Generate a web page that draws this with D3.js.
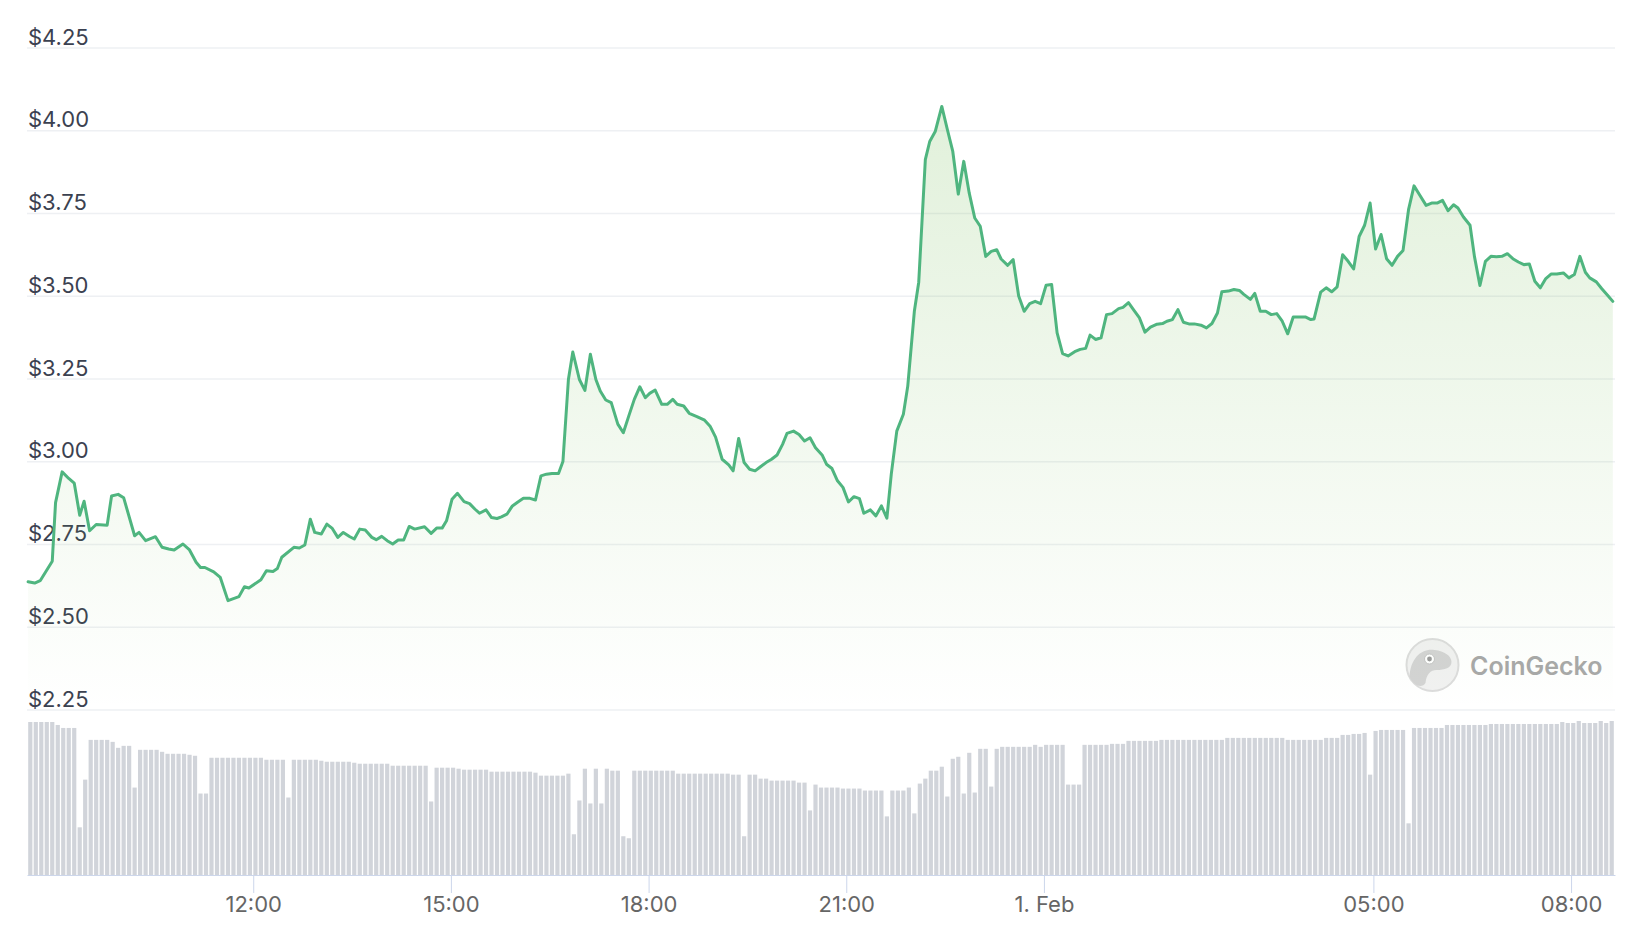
<!DOCTYPE html>
<html><head>
<meta charset="utf-8">
<title>Price chart - 24h</title>
<script src="https://d3js.org/d3.v7.min.js"></script>
<style>
  body { margin: 0; background: #fff; }
  svg { display: block; font-family: Inter, "Noto Sans", sans-serif; }

  .gridlines line { stroke: #eef0f3; stroke-width: 1.5px; }
  .gridlines .domain { stroke: none; }

  .ylabels text { fill: #3b4150; font-size: 22px; }

  .xaxis text { fill: #666; font-size: 22px; font-family: Inter, "Noto Sans", sans-serif; }
  .xaxis line, .xaxis path { stroke: #ccd6eb; }
</style>
</head>
<body>

<svg id="chart" width="1640" height="934"></svg>

<script>

// Price readings: minutes after 31 Jan 08:34, and price in USD
const priceMinutes = [
  1, 7, 12, 23, 26, 32, 38, 43, 48, 52, 57, 63, 73, 77, 83, 88, 98, 102, 108, 117,
  123, 129, 134, 142, 148, 154, 158, 162, 170, 176, 183, 193, 198, 202, 213, 218, 224, 228, 232, 243,
  248, 253, 258, 262, 268, 273, 278, 283, 288, 294,
  298, 303, 308, 314, 318, 323, 328, 333, 338, 343, 348, 353, 362, 368, 373, 378, 382, 387, 392, 398,
  403, 408, 412, 418, 423, 428, 432, 437, 442, 447, 452, 458, 463, 468, 473, 478, 484, 488, 493, 497,
  503, 508, 513, 518, 522, 527, 532, 538, 543, 548, 553, 558, 563, 567, 572, 578, 583,
  588, 592, 598, 603, 610, 617, 622, 627, 633, 639, 643, 648, 653, 658, 663, 667, 673, 678, 683, 688,
  692, 698, 703, 708, 713, 718, 724, 728, 733, 738, 743, 748, 753, 758, 762, 768, 773, 778, 783, 787,
  792, 798, 802, 808, 812, 818, 822, 827, 833, 838, 843, 848, 853, 858, 863, 868, 873,
  878, 883, 887, 893, 898, 903, 908, 913, 918, 923, 928, 933, 938, 943, 948, 954, 959, 964, 968, 973,
  978, 983, 988, 994, 998, 1003, 1008, 1013, 1018, 1023, 1029, 1034, 1038, 1043, 1048, 1053, 1058, 1063, 1069, 1074,
  1079, 1084, 1088, 1094, 1099, 1104, 1108, 1114, 1118, 1123, 1128, 1133, 1138, 1143, 1148, 1153, 1159, 1164,
  1169, 1172, 1178, 1183, 1188, 1193, 1198, 1203, 1208, 1213, 1218, 1223, 1228, 1233, 1238, 1243, 1248, 1253, 1258, 1263,
  1268, 1274, 1279, 1284, 1289, 1294, 1299, 1303, 1308, 1314, 1318, 1323, 1328, 1333, 1338, 1343, 1348, 1353, 1358, 1363,
  1368, 1373, 1378, 1383, 1388, 1393, 1399, 1404, 1409, 1414, 1419, 1423, 1429, 1434, 1439, 1444
];
const prices = [
  2.636, 2.632, 2.639, 2.698, 2.875, 2.968, 2.948, 2.934, 2.837, 2.879, 2.790, 2.809, 2.807, 2.895, 2.900, 2.890, 2.775, 2.785, 2.760, 2.772,
  2.740, 2.735, 2.732, 2.750, 2.732, 2.695, 2.679, 2.679, 2.666, 2.649, 2.579, 2.591, 2.621, 2.617, 2.642, 2.669, 2.667, 2.676, 2.710, 2.740,
  2.738, 2.747, 2.825, 2.785, 2.780, 2.810, 2.797, 2.770, 2.785, 2.772,
  2.765, 2.795, 2.792, 2.770, 2.763, 2.773, 2.760, 2.750, 2.762, 2.762, 2.803, 2.795, 2.802, 2.782, 2.798, 2.798, 2.820, 2.885, 2.903, 2.878,
  2.872, 2.855, 2.843, 2.853, 2.830, 2.827, 2.832, 2.840, 2.865, 2.877, 2.888, 2.888, 2.883, 2.956, 2.961, 2.963, 2.963, 2.999, 3.247, 3.330,
  3.247, 3.214, 3.323, 3.247, 3.212, 3.185, 3.177, 3.112, 3.086, 3.137, 3.187, 3.225, 3.192, 3.205, 3.215, 3.172, 3.172,
  3.187, 3.172, 3.167, 3.145, 3.135, 3.124, 3.106, 3.073, 3.006, 2.989, 2.971, 3.069, 2.996, 2.976, 2.971, 2.981, 2.996, 3.006, 3.019, 3.051,
  3.084, 3.091, 3.081, 3.061, 3.071, 3.041, 3.019, 2.991, 2.978, 2.941, 2.921, 2.877, 2.893, 2.887, 2.843, 2.853, 2.835, 2.865, 2.828, 2.961,
  3.091, 3.142, 3.227, 3.453, 3.541, 3.911, 3.966, 3.996, 4.072, 4.003, 3.936, 3.807, 3.906, 3.810, 3.735, 3.710, 3.619,
  3.634, 3.639, 3.611, 3.592, 3.609, 3.499, 3.453, 3.476, 3.483, 3.476, 3.532, 3.534, 3.388, 3.325, 3.318, 3.331, 3.338, 3.341, 3.381, 3.368,
  3.373, 3.443, 3.446, 3.461, 3.465, 3.479, 3.456, 3.433, 3.390, 3.405, 3.414, 3.416, 3.423, 3.428, 3.458, 3.420, 3.415, 3.415, 3.411, 3.403,
  3.416, 3.448, 3.512, 3.514, 3.519, 3.516, 3.504, 3.489, 3.507, 3.453, 3.453, 3.443, 3.446, 3.423, 3.385, 3.436, 3.436, 3.436,
  3.428, 3.430, 3.511, 3.524, 3.512, 3.527, 3.624, 3.604, 3.581, 3.679, 3.713, 3.780, 3.641, 3.685, 3.612, 3.592, 3.619, 3.637, 3.760, 3.832,
  3.805, 3.773, 3.780, 3.780, 3.788, 3.757, 3.775, 3.765, 3.738, 3.713, 3.619, 3.531, 3.604, 3.619, 3.618, 3.619, 3.627, 3.612, 3.602, 3.594,
  3.596, 3.544, 3.524, 3.552, 3.566, 3.566, 3.569, 3.554, 3.564, 3.619, 3.571, 3.554, 3.542, 3.521, 3.502, 3.483
];

// Volume bars, one every 5 minutes starting 31 Jan 08:37 (relative units)
const volumes = [
  15.4, 15.4, 15.4, 15.4, 15.4, 15.1, 14.8, 14.8, 14.8, 4.8, 9.6, 13.6, 13.6, 13.6, 13.6, 13.4, 12.8, 13.0, 13.0, 8.8,
  12.6, 12.6, 12.6, 12.6, 12.4, 12.2, 12.2, 12.2, 12.2, 12.1, 12.0, 8.2, 8.2, 11.8, 11.8, 11.8, 11.8, 11.8, 11.8, 11.8,
  11.8, 11.8, 11.8, 11.6, 11.6, 11.6, 11.6, 7.8, 11.6, 11.6, 11.6, 11.6, 11.6, 11.5, 11.4, 11.4, 11.4, 11.4, 11.4, 11.3,
  11.2, 11.2, 11.2, 11.2, 11.2, 11.2, 11.0, 11.0, 11.0, 11.0, 11.0, 11.0, 11.0, 7.4, 10.8, 10.8, 10.8, 10.8, 10.7, 10.6,
  10.6, 10.6, 10.6, 10.6, 10.4, 10.4, 10.4, 10.4, 10.4, 10.4, 10.4, 10.4, 10.3, 10.0, 10.0, 10.0, 10.0, 10.0, 10.2, 4.1,
  7.5, 10.7, 7.2, 10.7, 7.2, 10.7, 10.5, 10.5, 3.9, 3.7, 10.5, 10.5, 10.5, 10.5, 10.5, 10.5, 10.5, 10.5, 10.2, 10.2,
  10.2, 10.2, 10.2, 10.2, 10.2, 10.2, 10.2, 10.2, 10.1, 10.1, 3.9, 10.1, 10.1, 9.7, 9.7, 9.5, 9.5, 9.5, 9.5, 9.5,
  9.3, 9.3, 6.5, 9.1, 8.8, 8.8, 8.8, 8.8, 8.7, 8.7, 8.7, 8.7, 8.5, 8.5, 8.5, 8.5, 5.9, 8.5, 8.5, 8.5,
  8.8, 6.2, 9.2, 9.7, 10.5, 10.5, 10.9, 7.9, 11.7, 11.9, 8.2, 12.3, 8.3, 12.7, 12.7, 8.9, 12.7, 12.9, 12.9, 12.9,
  12.9, 12.9, 12.9, 13.1, 12.9, 13.1, 13.1, 13.1, 13.1, 9.1, 9.1, 9.1, 13.1, 13.1, 13.1, 13.1, 13.1, 13.2, 13.2, 13.2,
  13.5, 13.5, 13.5, 13.5, 13.5, 13.5, 13.6, 13.6, 13.6, 13.6, 13.6, 13.6, 13.6, 13.6, 13.6, 13.6, 13.6, 13.6, 13.8, 13.8,
  13.8, 13.8, 13.8, 13.8, 13.8, 13.8, 13.8, 13.8, 13.8, 13.6, 13.6, 13.6, 13.6, 13.6, 13.6, 13.6, 13.8, 13.8, 13.8, 14.1,
  14.1, 14.2, 14.2, 14.3, 10.1, 14.5, 14.6, 14.6, 14.6, 14.6, 14.6, 5.2, 14.8, 14.8, 14.8, 14.8, 14.8, 14.8, 15.1, 15.1,
  15.1, 15.1, 15.1, 15.1, 15.1, 15.1, 15.2, 15.2, 15.2, 15.2, 15.2, 15.2, 15.2, 15.2, 15.2, 15.2, 15.2, 15.2, 15.2, 15.4,
  15.3, 15.3, 15.5, 15.3, 15.3, 15.3, 15.5, 15.3, 15.5
];

const priceTicks = [2.25, 2.50, 2.75, 3.00, 3.25, 3.50, 3.75, 4.00, 4.25];
const timeTicks = ["2023-01-31T12:00", "2023-01-31T15:00", "2023-01-31T18:00", "2023-01-31T21:00",
                   "2023-02-01T00:00", "2023-02-01T05:00", "2023-02-01T08:00"];
const timeTickLabels = ["12:00", "15:00", "18:00", "21:00", "1. Feb", "05:00", "08:00"];


// SVG and layout
const svg = d3.select("svg#chart");
const plotLeft = 27, plotRight = 1615;
const priceTop = 47.5, priceBottom = 709.5;
const volTop = 721, volBottom = 875;

const start = new Date("2023-01-31T08:34");
const minutesToDate = (m) => new Date(start.getTime() + m * 60000);

// Scales
const xScale = d3.scaleTime()
  .domain([start, new Date("2023-02-01T08:40")])
  .range([plotLeft, plotRight]);

const yScale = d3.scaleLinear()
  .domain([2.25, 4.25])
  .range([priceBottom, priceTop]);

const volScale = d3.scaleLinear()
  .domain([0, d3.max(volumes)])
  .range([volBottom, volTop]);

const priceData = priceMinutes.map((m, i) => ({date: minutesToDate(m), price: prices[i]}));
const volData = volumes.map((v, i) => ({date: minutesToDate(3 + i * 5), vol: v}));


// Gridlines from an axis with no labels
const gridAxis = d3.axisLeft(yScale)
  .tickValues(priceTicks)
  .tickSize(-(plotRight - plotLeft))
  .tickFormat("");
svg.append("g").attr("class", "gridlines")
  .attr("transform", "translate(" + plotLeft + ",0)")
  .call(gridAxis);

// Price labels sit above their gridline, left aligned
const fmt = d3.format("$.2f");
svg.append("g").attr("class", "ylabels")
  .selectAll("text")
  .data(priceTicks)
  .join("text")
  .attr("x", plotLeft + 1)
  .attr("y", d => yScale(d) - 3)
  .text(d => fmt(d));


// Watermark
const logo = svg.append("g").attr("transform", "translate(1432.5,665)");
logo.append("circle").attr("r", 26).attr("fill", "#f1f1f1").attr("stroke", "#dcdcdc").attr("stroke-width", 2);
logo.append("path")
  .attr("d", "M -23 12 C -22 -8, -10 -17, 2 -15 C 12 -14, 19 -9, 19 -3 C 19 3, 12 5, 4 5 C -2 5, -6 9, -7 18 C -10 23, -18 22, -23 12 Z")
  .attr("fill", "#d3d3d3");
logo.append("circle").attr("cx", -3).attr("cy", -6).attr("r", 5).attr("fill", "#fff").attr("stroke", "#c4c4c4");
logo.append("circle").attr("cx", -3).attr("cy", -6).attr("r", 2.4).attr("fill", "#9a9a9a");
svg.append("text")
  .attr("x", 1470).attr("y", 675)
  .attr("fill", "#a8a8a8")
  .attr("font-size", 25)
  .attr("font-weight", 600)
  .text("CoinGecko");


// Area fill with a fading green gradient
const grad = svg.append("defs").append("linearGradient")
  .attr("id", "areaFill")
  .attr("gradientUnits", "userSpaceOnUse")
  .attr("x1", 0).attr("x2", 0)
  .attr("y1", priceTop).attr("y2", priceBottom);
grad.append("stop").attr("offset", "0%").attr("stop-color", "rgb(120,190,90)").attr("stop-opacity", 0.24);
grad.append("stop").attr("offset", "100%").attr("stop-color", "rgb(120,190,90)").attr("stop-opacity", 0.0);

const area = d3.area()
  .x(d => xScale(d.date))
  .y0(priceBottom)
  .y1(d => yScale(d.price));
svg.append("path")
  .datum(priceData)
  .attr("d", area)
  .attr("fill", "url(#areaFill)");

const line = d3.line()
  .x(d => xScale(d.date))
  .y(d => yScale(d.price));
svg.append("path")
  .datum(priceData)
  .attr("d", line)
  .attr("fill", "none")
  .attr("stroke", "#4fb57f")
  .attr("stroke-width", 3)
  .attr("stroke-linejoin", "round")
  .attr("stroke-linecap", "round");


// Volume bars
const barWidth = 4.2;
svg.append("g")
  .selectAll("rect")
  .data(volData)
  .join("rect")
  .attr("x", d => xScale(d.date) - barWidth / 2)
  .attr("y", d => volScale(d.vol))
  .attr("width", barWidth)
  .attr("height", d => volBottom - volScale(d.vol))
  .attr("fill", "#d1d4da");


// Time axis under the volume bars
const xAxis = d3.axisBottom(xScale)
  .tickValues(timeTicks.map(t => new Date(t)))
  .tickSize(18)
  .tickSizeOuter(0)
  .tickFormat((d, i) => timeTickLabels[i]);
svg.append("g").attr("class", "xaxis")
  .attr("transform", "translate(0," + volBottom + ")")
  .call(xAxis)
  .call(g => g.selectAll("text").attr("font-size", 22).attr("fill", "#666"));

</script>
</body>
</html>
